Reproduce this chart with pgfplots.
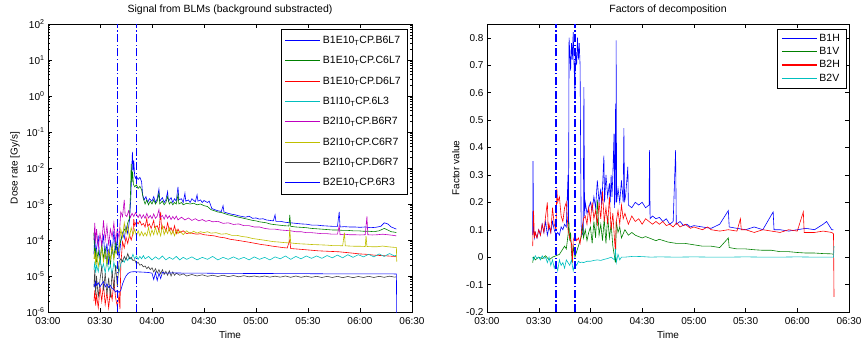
\documentclass[border=0pt]{standalone}
\usepackage{fontspec}
\setmainfont{Liberation Sans}
\usepackage{pgfplots}
\pgfplotsset{compat=1.18}
\definecolor{mb}{rgb}{0,0,1}
\definecolor{mg}{rgb}{0,0.5,0}
\definecolor{mr}{rgb}{1,0,0}
\definecolor{mc}{rgb}{0,0.75,0.75}
\definecolor{mm}{rgb}{0.75,0,0.75}
\definecolor{my}{rgb}{0.75,0.75,0}
\definecolor{mk}{rgb}{0.25,0.25,0.25}
\pgfplotsset{
  every axis/.append style={
    scale only axis, height=288pt,
    font=\fontsize{10}{12}\selectfont,
    tick label style={font=\fontsize{10}{12}\selectfont},
    x tick label style={yshift=-1.5pt},
    label style={font=\fontsize{10}{12}\selectfont},
    title style={font=\fontsize{10.5}{12}\selectfont},
    major tick length=4pt, minor tick length=2pt,
    tick align=inside, tick style={black, line width=0.4pt},
    axis line style={line width=0.5pt},
    xmin=0, xmax=210, xtick={0,30,60,90,120,150,180,210},
    xticklabels={03:00,03:30,04:00,04:30,05:00,05:30,06:00,06:30},
    xlabel={Time},
    legend cell align=left,
    legend image code/.code={\draw[#1, line width=1.2pt] (0pt,0pt) -- (35pt,0pt);},
    every axis plot/.append style={line width=0.6pt},
  },
  vline/.style={draw=mb, color=mb, line width=1.6pt, dash pattern=on 8pt off 2.5pt on 1.2pt off 2.5pt, forget plot},
}
\begin{document}
\begin{tikzpicture}
\path[use as bounding box] (0,0) rectangle (866pt,340pt);
\begin{axis}[at={(48pt,28pt)}, anchor=south west, width=364pt,
  ymode=log, ymin=1e-6, ymax=1e2,
  ytick={1e-6,1e-5,1e-4,1e-3,1e-2,1e-1,1,1e1,1e2},
  yticklabels={10\textsuperscript{-6},10\textsuperscript{-5},10\textsuperscript{-4},10\textsuperscript{-3},10\textsuperscript{-2},10\textsuperscript{-1},10\textsuperscript{0},10\textsuperscript{1},10\textsuperscript{2}},
  minor ytick={2e-6,3e-6,4e-6,5e-6,6e-6,7e-6,8e-6,9e-6,2e-5,3e-5,4e-5,5e-5,6e-5,7e-5,8e-5,9e-5,2e-4,3e-4,4e-4,5e-4,6e-4,7e-4,8e-4,9e-4,2e-3,3e-3,4e-3,5e-3,6e-3,7e-3,8e-3,9e-3,2e-2,3e-2,4e-2,5e-2,6e-2,7e-2,8e-2,9e-2,0.2,0.3,0.4,0.5,0.6,0.7,0.8,0.9,2,3,4,5,6,7,8,9,20,30,40,50,60,70,80,90},
  ylabel={Dose rate [Gy/s]},
  title={Signal from BLMs (background substracted)},
  legend style={at={(0.986,0.983)}, anchor=north east, draw=black, fill=white,
    font=\fontsize{10.5}{12}\selectfont, row sep=7.5pt, inner xsep=4pt, inner ysep=5pt},
]
\addplot[color=mb] coordinates {(26.5,4e-5) (27,1.6e-4) (27.5,3e-5) (28,6e-5) (29,1.2e-4) (30,2.5e-5) (31,7e-5) (32,1.3e-4) (33,3e-5) (34,8e-5) (35,2e-5) (36,1e-4) (37,4e-5) (38,1.8e-4) (39,5e-5) (40,1.1e-4) (41,3e-5) (42,9e-5) (43,1.6e-4) (44,1.1e-4) (45,2.4e-4) (46,1.5e-4) (47,3.5e-4) (47.8,1.5e-3) (48.3,9e-3) (48.7,2.8e-2) (49.1,8e-3) (49.5,1.6e-2) (50,6e-3) (50.5,5.2e-3) (51,6e-3) (52,4.8e-3) (53,5.5e-3) (54,4.2e-3) (54.6,1.8e-3) (55.5,1.3e-3) (56.5,1.6e-3) (57.5,1.1e-3) (58.5,1.4e-3) (60,1.2e-3) (61,1.6e-3) (62,1.1e-3) (63,1.4e-3) (64,2.6e-3) (64.5,1.2e-3) (66,1.5e-3) (67,1.1e-3) (68,1.3e-3) (69,2.2e-3) (69.5,1.2e-3) (71,1.5e-3) (72,1.1e-3) (73,1.4e-3) (74,1.2e-3) (75,3e-3) (75.5,1.3e-3) (77,1.4e-3) (78,1.1e-3) (79,2e-3) (79.5,1.2e-3) (81,1.3e-3) (82,1.1e-3) (83,1.4e-3) (85,1.15e-3) (86,1.8e-3) (86.5,1.2e-3) (88,1.3e-3) (89,1.1e-3) (90,1.25e-3) (92,1.1e-3) (93,1.2e-3) (94.5,7.5e-4) (96,7e-4) (98,6.5e-4) (100,6.2e-4) (101,9e-4) (101.5,6e-4) (104,5.5e-4) (106,5.2e-4) (108,5e-4) (110,4.7e-4) (112,4.5e-4) (114,4.3e-4) (116,4.6e-4) (118,4e-4) (120,4.1e-4) (122,3.8e-4) (124,3.9e-4) (126,3.6e-4) (128,3.5e-4) (130,3.4e-4) (131,5e-4) (131.5,3.3e-4) (134,3.3e-4) (137,3.1e-4) (140,3e-4) (143,2.9e-4) (146,2.8e-4) (149,2.75e-4) (152,2.6e-4) (155,2.6e-4) (158,2.5e-4) (161,2.45e-4) (164,2.4e-4) (167,2.4e-4) (168,6e-4) (168.5,2.3e-4) (171,2.35e-4) (174,2.3e-4) (177,2.3e-4) (180,2.25e-4) (183,2.3e-4) (186,2.2e-4) (189,2.25e-4) (192,2.4e-4) (194,3e-4) (196,2.8e-4) (198,2.3e-4) (200,2.1e-4) (201,2e-4)};
\addlegendentry{B1E10\textsubscript{T}CP.B6L7}
\addplot[color=mg] coordinates {(26.5,1.6e-4) (27,3e-5) (27.5,6e-5) (28,2.5e-5) (29,5e-5) (30,2e-5) (31,8e-5) (32,3e-5) (33,6e-5) (34,2.5e-5) (35,5e-5) (36,2e-5) (37,7e-5) (38,3e-5) (39,1e-4) (40,4e-5) (41,6e-5) (42,1e-4) (43,1.4e-4) (44,2e-4) (45,1.7e-4) (46,3e-4) (47,4e-4) (47.6,2e-3) (48,1.3e-2) (48.4,4e-3) (48.8,8e-3) (49.3,3.5e-3) (50,3e-3) (51,3.4e-3) (52,2.7e-3) (53,3.1e-3) (54,2.5e-3) (55,1.4e-3) (56,1e-3) (57,1.3e-3) (58,9.5e-4) (59,1.2e-3) (60,1e-3) (61,1.3e-3) (62,1e-3) (63,1.2e-3) (64,2e-3) (64.5,1e-3) (66,1.2e-3) (67,9.5e-4) (68,1.1e-3) (69,1.6e-3) (70,1e-3) (71,1.15e-3) (72,9.5e-4) (73,1.1e-3) (74,1e-3) (75,1.8e-3) (75.5,1e-3) (77,1.1e-3) (78,9.5e-4) (80,1.05e-3) (82,1e-3) (84,1.05e-3) (86,9.5e-4) (88,1e-3) (90,9e-4) (92,8.5e-4) (94,7e-4) (96,6.5e-4) (98,6e-4) (100,5.8e-4) (102,5.4e-4) (104,5e-4) (106,4.8e-4) (108,4.5e-4) (110,4.3e-4) (112,4.1e-4) (114,3.9e-4) (116,3.7e-4) (118,3.5e-4) (120,3.4e-4) (122,3.2e-4) (124,3.1e-4) (126,3e-4) (128,2.8e-4) (130,2.7e-4) (133,2.6e-4) (136,2.5e-4) (139,2.45e-4) (139.5,5e-4) (140,2.4e-4) (143,2.3e-4) (146,2.25e-4) (149,2.2e-4) (152,2.1e-4) (155,2.05e-4) (158,2e-4) (161,1.95e-4) (164,1.9e-4) (167,1.9e-4) (170,1.85e-4) (173,1.85e-4) (176,1.8e-4) (179,1.8e-4) (182,1.75e-4) (185,1.75e-4) (188,1.7e-4) (191,1.8e-4) (194,2.1e-4) (196,1.9e-4) (198,1.7e-4) (200,1.65e-4) (201,1.6e-4)};
\addlegendentry{B1E10\textsubscript{T}CP.C6L7}
\addplot[color=mr] coordinates {(26.5,2e-6) (27,4e-6) (27.5,1.5e-6) (28,3e-6) (29,1.3e-6) (30,5e-6) (31,2e-6) (32,6e-6) (33,1.6e-6) (34,3.5e-6) (35,1.3e-6) (36,4e-6) (37,2.2e-6) (38,7e-6) (39,2.5e-6) (40,1.4e-6) (41,3e-6) (41.5,1.2e-6) (42,2e-5) (43,9e-5) (44,6e-5) (45,1.2e-4) (46,8e-5) (47,1.4e-4) (48,1e-4) (49,1.5e-4) (49.5,3.8e-4) (50,2.5e-4) (51,3.3e-4) (52,2.8e-4) (53,3.4e-4) (54,2.6e-4) (55,2.9e-4) (56,2.3e-4) (57,4e-4) (57.5,2.4e-4) (58.5,2.8e-4) (59.5,2.1e-4) (61,3.5e-4) (61.5,2.2e-4) (63,2.5e-4) (64,1.8e-4) (65,6e-4) (65.5,2e-4) (67,2.4e-4) (68,1.7e-4) (69,3e-4) (70,1.8e-4) (71,2.2e-4) (72,1.6e-4) (73,2.5e-4) (74,1.5e-4) (75,2e-4) (76,1.6e-4) (78,1.8e-4) (80,1.5e-4) (82,1.6e-4) (84,1.5e-4) (86,1.45e-4) (88,1.5e-4) (90,1.4e-4) (93,1.35e-4) (96,1.3e-4) (99,1.2e-4) (102,1.15e-4) (105,1.05e-4) (108,1e-4) (111,9.5e-5) (114,9e-5) (117,8.5e-5) (120,8e-5) (123,7.5e-5) (126,7.2e-5) (129,6.8e-5) (132,6.5e-5) (135,6.2e-5) (138,6e-5) (139.5,1e-4) (140,5.8e-5) (144,5.6e-5) (148,5.4e-5) (152,5.2e-5) (156,5e-5) (160,4.9e-5) (164,4.8e-5) (168,4.7e-5) (172,4.5e-5) (176,4.3e-5) (180,4.1e-5) (184,4e-5) (188,3.8e-5) (192,3.7e-5) (196,3.6e-5) (200,3.5e-5) (201,3.4e-5)};
\addlegendentry{B1E10\textsubscript{T}CP.D6L7}
\addplot[color=mc] coordinates {(26.5,1.5e-5) (27,2.5e-5) (27.5,1.2e-5) (28,2e-5) (29,1.3e-5) (30,3e-5) (31,1.5e-5) (32,2.2e-5) (33,1.2e-5) (34,2.8e-5) (35,1.4e-5) (36,2e-5) (37,1.1e-5) (38,2.4e-5) (39,1.5e-5) (40,2e-5) (41,1.3e-5) (42,2.2e-5) (43,2.8e-5) (44,2.4e-5) (45,3.2e-5) (46,2.7e-5) (47,3.4e-5) (48,2.9e-5) (49,4e-5) (50,3e-5) (51,3.6e-5) (52,2.9e-5) (53,3.5e-5) (54,3e-5) (55,3.7e-5) (56,3e-5) (58,3.5e-5) (60,2.8e-5) (62,3.4e-5) (64,2.9e-5) (66,3.6e-5) (68,2.8e-5) (70,3.3e-5) (72,2.9e-5) (74,3.5e-5) (76,2.8e-5) (78,3.3e-5) (80,2.9e-5) (83,3.4e-5) (86,2.8e-5) (89,3.3e-5) (92,2.9e-5) (95,3.5e-5) (98,2.8e-5) (101,3.3e-5) (104,2.9e-5) (107,3.4e-5) (110,2.9e-5) (113,3.3e-5) (116,2.8e-5) (119,3.4e-5) (122,2.9e-5) (125,3.3e-5) (128,2.8e-5) (131,3.4e-5) (134,3e-5) (137,3.6e-5) (140,2.9e-5) (143,3.5e-5) (146,3e-5) (149,3.6e-5) (152,3.1e-5) (155,3.6e-5) (158,3.1e-5) (161,3.7e-5) (164,3.2e-5) (167,3.8e-5) (170,3.2e-5) (173,3.9e-5) (176,3.3e-5) (179,3.9e-5) (182,3.4e-5) (185,4e-5) (188,3.4e-5) (191,4.1e-5) (194,3.5e-5) (197,4.2e-5) (200,3.6e-5) (201,3.8e-5)};
\addlegendentry{B1I10\textsubscript{T}CP.6L3}
\addplot[color=mm] coordinates {(26.5,1e-4) (27,3e-4) (27.5,8e-5) (28,2e-4) (29,6e-5) (30,1.5e-4) (31,7e-5) (32,3.5e-4) (33,1e-4) (34,2.5e-4) (35,7e-5) (36,2e-4) (37,1.2e-4) (38,3e-4) (39,9e-5) (40,2e-4) (41,1.1e-4) (42,6e-4) (43,4.5e-4) (44,1.3e-3) (44.5,5e-4) (45.5,4.5e-4) (46.5,6.5e-4) (47.5,4.2e-4) (48.5,5.5e-4) (49.5,4.5e-4) (50.5,5.8e-4) (52,4.2e-4) (53,5.2e-4) (54,4e-4) (55,5e-4) (56,4e-4) (57,5.5e-4) (58,4.1e-4) (59,4.8e-4) (60,3.9e-4) (61,5.3e-4) (62,4e-4) (63,4.6e-4) (64,7e-4) (64.5,4.2e-4) (66,4.8e-4) (67,3.8e-4) (68,5e-4) (69,4e-4) (70,4.7e-4) (71,3.7e-4) (72,4.5e-4) (73,3.8e-4) (74,4.6e-4) (75,3.6e-4) (77,4.3e-4) (79,3.6e-4) (81,4.1e-4) (83,3.5e-4) (85,3.9e-4) (87,3.4e-4) (89,3.7e-4) (91,3.3e-4) (93,3.5e-4) (95,3.2e-4) (98,3.3e-4) (101,2.9e-4) (104,3e-4) (107,2.7e-4) (110,2.8e-4) (113,2.5e-4) (116,2.5e-4) (119,2.3e-4) (122,2.3e-4) (125,2.1e-4) (128,2e-4) (131,2e-4) (134,1.9e-4) (137,1.85e-4) (140,1.8e-4) (143,1.7e-4) (146,1.7e-4) (149,1.6e-4) (152,1.6e-4) (155,1.55e-4) (158,1.5e-4) (161,1.5e-4) (164,1.45e-4) (167,1.45e-4) (168,2.5e-4) (168.5,1.4e-4) (171,1.45e-4) (174,1.4e-4) (177,1.4e-4) (180,1.38e-4) (183,1.4e-4) (184,4.5e-4) (184.5,1.4e-4) (187,1.38e-4) (190,1.4e-4) (193,1.45e-4) (196,1.4e-4) (199,1.35e-4) (201,1.3e-4)};
\addlegendentry{B2I10\textsubscript{T}CP.B6R7}
\addplot[color=my] coordinates {(26.5,3e-5) (27,5e-5) (27.5,2e-5) (28,4e-5) (29,1.8e-5) (30,3.5e-5) (31,6e-5) (32,2.5e-5) (33,4.5e-5) (34,2e-5) (35,5e-5) (36,3e-5) (37,7e-5) (38,3e-5) (39,5e-5) (40,4e-5) (41,6e-5) (42,2e-4) (43,1.2e-4) (44,3e-4) (45,1.5e-4) (46,2.5e-4) (47,1.2e-4) (48,2.2e-4) (49,1.4e-4) (50,2e-4) (51,1.3e-4) (52,1.8e-4) (53,1.3e-4) (54,1.7e-4) (55,1.3e-4) (56,1.6e-4) (57,1.3e-4) (58,2.2e-4) (59,1.3e-4) (60,1.9e-4) (61,1.4e-4) (62,2.3e-4) (63,1.4e-4) (64,1.9e-4) (65,1.3e-4) (66,2.5e-4) (67,1.4e-4) (68,2e-4) (69,1.5e-4) (70,2.2e-4) (71,1.4e-4) (72,1.8e-4) (73,1.3e-4) (74,1.9e-4) (75,1.5e-4) (76,1.8e-4) (78,1.4e-4) (80,1.8e-4) (82,1.5e-4) (84,1.75e-4) (86,1.55e-4) (88,1.7e-4) (90,1.6e-4) (92,1.7e-4) (94,1.55e-4) (97,1.6e-4) (100,1.45e-4) (103,1.5e-4) (106,1.35e-4) (109,1.35e-4) (112,1.25e-4) (115,1.2e-4) (118,1.1e-4) (121,1.05e-4) (124,1e-4) (127,9.5e-5) (130,9e-5) (133,8.8e-5) (136,8.5e-5) (139,8.3e-5) (139.5,2.2e-4) (140,8.3e-5) (143,8e-5) (146,7.8e-5) (149,7.7e-5) (152,7.5e-5) (155,7.4e-5) (158,7.3e-5) (161,7.2e-5) (164,7e-5) (167,7e-5) (170,6.9e-5) (171,1.6e-4) (171.5,6.9e-5) (174,6.8e-5) (177,6.7e-5) (180,6.7e-5) (183,6.6e-5) (183.5,1.3e-4) (184,6.6e-5) (187,6.5e-5) (190,6.5e-5) (193,6.8e-5) (196,6.5e-5) (199,6.3e-5) (201,6.2e-5) (201.2,2.5e-5)};
\addlegendentry{B2I10\textsubscript{T}CP.C6R7}
\addplot[color=mk] coordinates {(26.5,5e-6) (27,1.5e-5) (27.5,3e-6) (28,1e-5) (29,2.5e-6) (30,8e-6) (31,1.8e-5) (32,4e-6) (33,1.2e-5) (34,3e-6) (35,9e-6) (36,2.5e-6) (37,1.4e-5) (38,4e-6) (39,2e-5) (40,5e-6) (41,2.5e-5) (42,3e-5) (43,2.5e-5) (44,3.5e-5) (45,2.8e-5) (46,4.2e-5) (47,3e-5) (48,3.3e-5) (49,2.7e-5) (50,2.8e-5) (51,2.2e-5) (52,2.4e-5) (53,2e-5) (54,2.1e-5) (55,1.8e-5) (56,1.9e-5) (57,1.6e-5) (58,1.8e-5) (59,1.5e-5) (60,1.7e-5) (61,1.3e-5) (62,1.6e-5) (63,1.2e-5) (64,1.5e-5) (65,1.15e-5) (66,1.5e-5) (67,1.1e-5) (68,1.35e-5) (69,1.05e-5) (70,1.4e-5) (71,1e-5) (72,1.3e-5) (73,1.05e-5) (74,1.2e-5) (76,1.05e-5) (78,1.15e-5) (80,1e-5) (83,1.1e-5) (86,1e-5) (89,1.08e-5) (92,9.8e-6) (95,1.05e-5) (98,9.7e-6) (101,1.05e-5) (104,9.6e-6) (107,1.03e-5) (110,9.5e-6) (113,1.02e-5) (116,9.5e-6) (119,1e-5) (122,9.4e-6) (125,1e-5) (128,9.3e-6) (131,9.9e-6) (134,9.3e-6) (137,1e-5) (140,9.2e-6) (143,1e-5) (146,9.2e-6) (149,9.9e-6) (152,9.2e-6) (155,9.8e-6) (158,9.1e-6) (161,9.8e-6) (164,9.1e-6) (167,9.8e-6) (170,9e-6) (173,9.7e-6) (176,9e-6) (179,9.7e-6) (182,9.1e-6) (185,9.8e-6) (188,9.1e-6) (191,9.8e-6) (194,9.2e-6) (197,9.9e-6) (200,9.3e-6) (201,9.5e-6)};
\addlegendentry{B2I10\textsubscript{T}CP.D6R7}
\addplot[color=mb] coordinates {(26.5,6e-6) (27,5e-6) (27.5,7e-6) (28,5.5e-6) (29,6.5e-6) (30,5e-6) (31,6e-6) (32,7e-6) (33,5e-6) (34,6e-6) (35,4.8e-6) (36,5.5e-6) (37,4.5e-6) (38,4.2e-6) (39,3.6e-6) (40,4e-6) (41,3.5e-6) (42,4e-6) (43,6e-6) (44,8e-6) (45,1e-5) (46,1.15e-5) (47,1.25e-5) (48,1.3e-5) (50,1.32e-5) (52,1.3e-5) (55,1.28e-5) (58,1.25e-5) (60,1.2e-5) (61,8e-6) (62,1.25e-5) (63,7.5e-6) (64,1.2e-5) (65,8.5e-6) (66,1.25e-5) (68,1.2e-5) (72,1.22e-5) (80,1.2e-5) (90,1.2e-5) (100,1.18e-5) (110,1.18e-5) (120,1.17e-5) (130,1.17e-5) (140,1.16e-5) (150,1.16e-5) (160,1.15e-5) (170,1.15e-5) (180,1.15e-5) (190,1.15e-5) (200,1.14e-5) (201,1.14e-5) (201.2,5e-7)};
\addlegendentry{B2E10\textsubscript{T}CP.6R3}
\addplot[vline] coordinates {(40,1e-6) (40,1e2)};
\addplot[vline] coordinates {(51,1e-6) (51,1e2)};
\end{axis}
\begin{axis}[at={(487pt,28pt)}, anchor=south west, width=362pt,
  ymin=-0.2, ymax=0.85,
  ytick={-0.2,-0.1,0,0.1,0.2,0.3,0.4,0.5,0.6,0.7,0.8},
  yticklabels={-0.2,-0.1,0,0.1,0.2,0.3,0.4,0.5,0.6,0.7,0.8},
  ylabel={Factor value},
  title={Factors of decomposition},
  legend style={at={(0.992,0.983)}, anchor=north east, draw=black, fill=white,
    font=\fontsize{10.5}{12}\selectfont, row sep=0.5pt, inner xsep=4pt, inner ysep=3pt},
]
\addplot[color=mb] coordinates {(26.5,0.08) (26.7,0.35) (27,0.1) (27.5,0.07) (28,0.09) (29,0.07) (30,0.1) (31,0.08) (32,0.12) (33,0.09) (34,0.13) (35,0.08) (36,0.11) (37,0.09) (38,0.13) (39,0.1) (40,0.08) (41,0.09) (42,0.08) (43,0.11) (44,0.1) (45,0.12) (46,0.11) (47,0.3) (47.3,0.12) (47.6,0.8) (48,0.75) (48.5,0.68) (49,0.78) (49.5,0.72) (50,0.82) (50.5,0.7) (51,0.6) (51.3,0.76) (52,0.7) (52.5,0.8) (53,0.72) (53.5,0.78) (54,0.7) (54.6,0.12) (55,0.08) (55.8,0.09) (56.2,0.62) (56.6,0.15) (57,0.2) (58,0.16) (59,0.18) (60,0.2) (61,0.17) (62,0.22) (63,0.18) (64,0.28) (65,0.2) (66,0.25) (66.5,0.19) (67,0.25) (67.8,0.37) (68.2,0.2) (69,0.3) (70,0.22) (71,0.27) (71.5,0.2) (72,0.3) (72.5,0.22) (73,0.3) (73.7,0.45) (74,0.18) (74.6,0.56) (74.8,0.2) (74.9,0.79) (75.2,0.2) (76,0.25) (77,0.2) (78,0.28) (79,0.2) (79.4,0.47) (79.8,0.2) (80.5,0.23) (81.7,0.33) (82,0.19) (84,0.18) (86,0.2) (88,0.19) (90,0.2) (92,0.18) (94,0.19) (94.3,0.39) (94.6,0.14) (96,0.15) (98,0.14) (100,0.145) (102,0.13) (104,0.14) (106,0.12) (108,0.13) (109.4,0.39) (109.8,0.12) (112,0.13) (114,0.115) (116,0.12) (118,0.11) (120,0.115) (125,0.11) (130,0.105) (135,0.12) (140,0.17) (140.5,0.11) (145,0.105) (150,0.1) (155,0.11) (160,0.1) (166,0.165) (166.5,0.1) (170,0.1) (175,0.095) (180,0.1) (185,0.105) (190,0.1) (195,0.12) (197,0.13) (200,0.1) (201,0.1)};
\addlegendentry{B1H}
\addplot[color=mg] coordinates {(26.5,-0.02) (27,0.0) (28,-0.01) (30,0.0) (32,-0.005) (34,0.005) (36,-0.01) (38,0.0) (40,0.005) (42,0.01) (43,0.02) (44,0.03) (45,0.04) (46,0.03) (47,0.08) (47.5,0.13) (48,0.06) (48.5,0.09) (49,0.02) (49.5,-0.02) (50,0.04) (51,0.0) (52,0.02) (53,0.04) (54,0.06) (55,0.08) (55.5,0.12) (56,0.07) (57,0.1) (58,0.06) (59,0.09) (60,0.11) (61,0.05) (62,0.13) (63,0.07) (64,0.21) (65,0.08) (66,0.12) (67,0.06) (68,0.14) (69,0.05) (70,0.15) (71,0.07) (72,0.12) (73,0.04) (74,0.0) (74.5,-0.02) (75,0.13) (76,0.09) (77,0.11) (78,0.07) (80,0.1) (82,0.08) (84,0.09) (86,0.08) (88,0.075) (90,0.07) (92,0.075) (94,0.07) (96,0.065) (98,0.06) (100,0.065) (105,0.055) (110,0.05) (115,0.05) (120,0.045) (125,0.04) (130,0.04) (135,0.035) (140,0.07) (140.5,0.035) (145,0.03) (150,0.03) (155,0.027) (160,0.025) (165,0.025) (170,0.02) (175,0.02) (180,0.017) (185,0.015) (190,0.015) (195,0.013) (200,0.012) (201,0.01)};
\addlegendentry{B1V}
\addplot[color=mr] coordinates {(26.5,0.04) (27,0.17) (27.5,0.07) (28,0.09) (29,0.07) (30,0.1) (31,0.08) (32,0.12) (33,0.09) (34,0.15) (35,0.2) (35.5,0.1) (36,0.12) (37,0.09) (38,0.18) (39,0.12) (40,0.1) (40.5,0.25) (41,0.2) (42,0.22) (43,0.15) (44,0.13) (45,0.18) (46,0.2) (47,0.1) (48,0.07) (49,0.05) (49.5,-0.02) (50,0.06) (51,0.08) (52,0.06) (53,0.07) (54,0.05) (55,0.1) (56,0.14) (57,0.15) (58,0.12) (59,0.18) (60,0.13) (61,0.2) (62,0.14) (63,0.17) (64,0.12) (65,0.2) (66,0.14) (67,0.24) (68,0.13) (69,0.18) (70,0.12) (71,0.22) (72,0.1) (73,0.16) (74,0.06) (74.5,0.02) (75,0.13) (76,0.17) (77,0.12) (78,0.19) (79,0.14) (80,0.16) (82,0.12) (84,0.15) (86,0.13) (88,0.14) (90,0.12) (92,0.14) (94,0.13) (96,0.12) (98,0.13) (100,0.12) (102,0.13) (104,0.115) (106,0.12) (108,0.11) (110,0.125) (112,0.11) (115,0.12) (118,0.105) (120,0.11) (125,0.1) (128,0.11) (130,0.1) (135,0.095) (140,0.1) (145,0.095) (147,0.14) (147.5,0.1) (150,0.1) (155,0.09) (160,0.1) (165,0.095) (170,0.09) (175,0.1) (180,0.095) (183.5,0.165) (184,0.09) (190,0.09) (195,0.095) (200,0.09) (201,0.085) (201.3,-0.145)};
\addlegendentry{B2H}
\addplot[color=mc] coordinates {(26.5,0.0) (27,-0.01) (28,0.005) (29,-0.005) (30,0.0) (31,-0.01) (32,0.005) (33,-0.005) (34,0.0) (35,-0.02) (36,0.0) (37,-0.03) (38,-0.01) (39,-0.04) (40,-0.02) (41,-0.05) (42,-0.01) (43,-0.03) (44,-0.02) (45,-0.04) (46,-0.01) (47,-0.02) (48,-0.03) (49,-0.01) (50,-0.05) (51,-0.02) (52,-0.03) (53,-0.015) (54,-0.02) (55,-0.018) (56,-0.02) (58,-0.015) (60,-0.015) (62,-0.012) (64,-0.01) (66,-0.012) (68,-0.008) (70,-0.005) (72,0.0) (74,-0.01) (74.5,0.03) (75,-0.02) (76,0.01) (77,-0.01) (78,0.0) (80,0.0) (85,0.003) (90,0.002) (95,0.0) (100,0.001) (110,0.0) (120,0.001) (130,0.0) (140,0.0) (150,0.001) (160,0.0) (170,0.0) (180,0.001) (190,0.0) (200,0.0) (201,0.0) (201.3,0.04)};
\addlegendentry{B2V}
\addplot[vline] coordinates {(40,-0.2) (40,0.85)};
\addplot[vline] coordinates {(51,-0.2) (51,0.85)};
\end{axis}
\end{tikzpicture}
\end{document}
